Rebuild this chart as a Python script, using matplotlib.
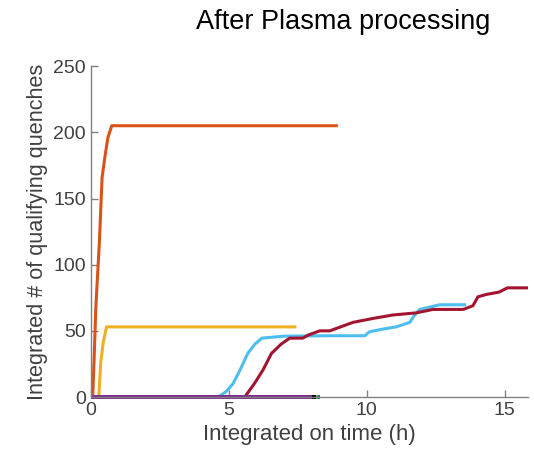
import matplotlib
matplotlib.use("Agg")
import matplotlib.pyplot as plt

plt.rcParams['font.family'] = ['Liberation Sans', 'DejaVu Sans']

# Data (integrated on time in h, integrated # of qualifying quenches)
orange_x = [0.0, 0.07, 0.12, 0.18, 0.24, 0.31, 0.41, 0.53, 0.62, 0.76, 8.9]
orange_y = [0, 0, 28, 66, 90, 116, 166, 184, 196, 205, 205]

yellow_x = [0.0, 0.29, 0.36, 0.45, 0.57, 7.4]
yellow_y = [0, 0, 26, 41, 53, 53]

blue_x = [0.0, 4.61, 4.9, 5.15, 5.4, 5.69, 5.95, 6.2, 7.0, 8.5, 9.93, 10.1, 10.6, 11.07, 11.56, 11.74, 11.92, 12.64, 13.55]
blue_y = [0, 0, 4, 10, 20, 33, 40, 44.5, 46, 46.3, 46.3, 49.3, 51.4, 53, 56.4, 62, 66.2, 69.7, 69.7]

red_x = [0.0, 5.58, 5.94, 6.24, 6.55, 6.9, 7.21, 7.68, 7.9, 8.3, 8.66, 9.5, 10.23, 10.95, 11.8, 12.4, 13.5, 13.85, 14.03, 14.33, 14.8, 15.1, 15.85]
red_y = [0, 0, 10.5, 20.4, 33, 40, 44.5, 44.5, 47, 50, 50, 56.4, 59.4, 62, 63.6, 66.2, 66.2, 69, 75.7, 77.5, 79.3, 82.5, 82.5]

zero_series = {
    '#0072BD': [0.0, 8.3],
    '#77AC30': [0.0, 8.25],
    '#000000': [0.0, 8.17],
    '#7E2F8E': [0.0, 8.0],
}

xticks = [0, 5, 10, 15]
yticks = [0, 50, 100, 150, 200, 250]

fig = plt.figure(figsize=(5.34, 4.66), dpi=100)
ax = fig.add_axes([0.170, 0.148, 0.819, 0.710])

lw = 2.2
for c, xs in zero_series.items():
    ax.plot(xs, [0, 0], color=c, lw=lw + 0.6, solid_capstyle='butt', clip_on=False)
ax.plot(blue_x, blue_y, color='#4DBEEE', lw=lw)
ax.plot(red_x, red_y, color='#A2142F', lw=lw)
ax.plot(yellow_x, yellow_y, color='#EDB120', lw=lw)
ax.plot(orange_x, orange_y, color='#D95319', lw=lw)
ax.plot(zero_series['#7E2F8E'], [0, 0], color='#7E2F8E', lw=lw + 0.6, solid_capstyle='butt', clip_on=False)

ax.set_xlim(0, 15.85)
ax.set_ylim(0, 250)
ax.set_xticks(xticks)
ax.set_yticks(yticks)
for s in ['top', 'right']:
    ax.spines[s].set_visible(False)
for s in ['left', 'bottom']:
    ax.spines[s].set_color('#808080')
    ax.spines[s].set_linewidth(1.0)
ax.tick_params(direction='in', length=5, width=1, colors='#808080', labelcolor='#404040', labelsize=14)

ax.set_xlabel('Integrated on time (h)', fontsize=16, color='#404040', labelpad=4)
ax.set_ylabel('Integrated # of qualifying quenches', fontsize=15.6, color='#404040', labelpad=4)
fig.text(343/534, 1 - 22/466, 'After Plasma processing', fontsize=19.5, ha='center', va='center', color='#000000')

fig.savefig('out.png', dpi=100)
